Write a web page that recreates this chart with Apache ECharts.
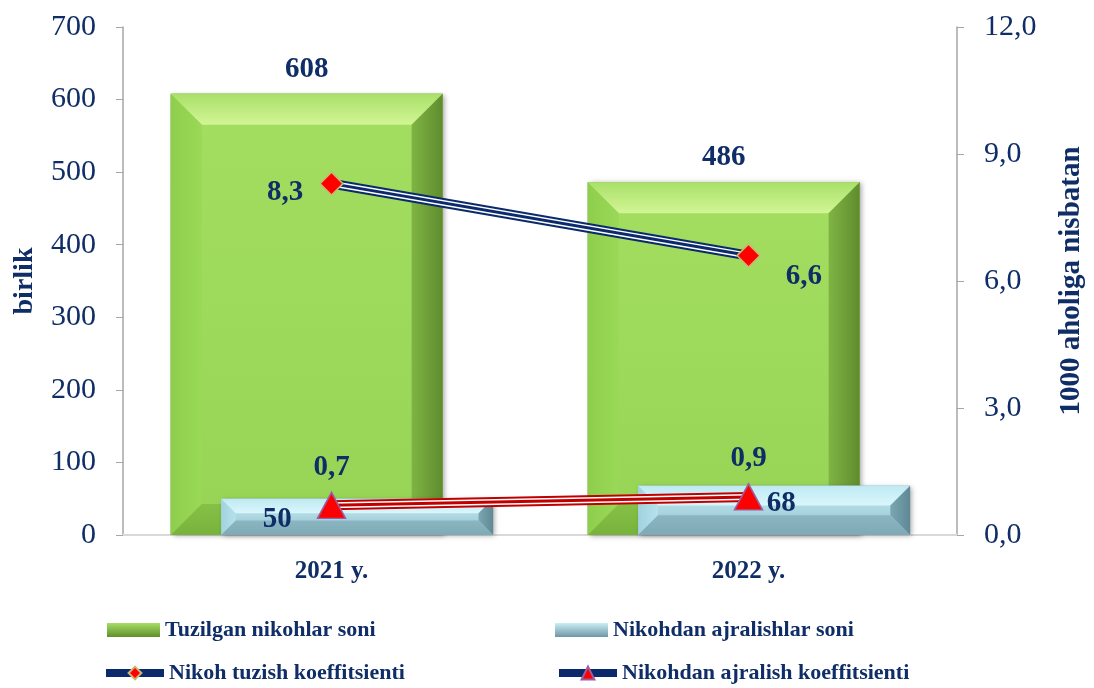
<!DOCTYPE html>
<html>
<head>
<meta charset="utf-8">
<script src="https://cdn.jsdelivr.net/npm/echarts@6/dist/echarts.min.js"></script>
<style>
  html, body { margin: 0; padding: 0; background: #fff; }
  #chart { width: 1094px; height: 688px; }
</style>
</head>
<body>
<div id="chart"></div>
<script>
// data
var years = ['2021 y.', '2022 y.'];
var marriages = [608, 486];        // Tuzilgan nikohlar soni
var divorces = [50, 68];           // Nikohdan ajralishlar soni
var marriageRate = [8.3, 6.6];     // Nikoh tuzish koeffitsienti
var divorceRate = [0.7, 0.9];      // Nikohdan ajralish koeffitsienti

var FONT = 'Liberation Serif';
var NAVY = '#0f2d66';

function comma(v) { return v.toFixed(1).replace('.', ','); }

function grad(c0, c1, horiz) {
  return new echarts.graphic.LinearGradient(0, 0, horiz ? 1 : 0, horiz ? 0 : 1,
    [{ offset: 0, color: c0 }, { offset: 1, color: c1 }]);
}

var greenFaces = {
  main: ['#a3de60', '#97d455'],
  top: ['#a9e069', '#d2f595'],
  left: ['#8fcd4c', '#9ad858'],
  right: ['#5f8c2e', '#7fb444'],
  bottom: ['#86c146', '#78b23c'],
  edge: '#4f7525'
};
var blueFaces = {
  main: ['#c9eff7', '#8fbdc9'],
  top: ['#bfe9f3', '#d9f7fc'],
  left: ['#a2d2de', '#b5e2ec'],
  right: ['#5f8894', '#7aa6b2'],
  bottom: ['#8ab6c2', '#7ea9b5'],
  edge: '#5a7f89'
};

// label shifts (style only)
var greenLabelShift = [[0, -24], [0, -25]];
var blueLabelShift = [[-80, 3], [7, -7]];

function bevelBar(faces, offsetFrac, labelShift, labelMode) {
  return function (params, api) {
    var i = api.value(0), v = api.value(1);
    var top = api.coord([i, v]);
    var base = api.coord([i, 0]);
    var band = api.size([1, 0])[0];
    var w = band * 0.652;
    var cx = top[0] + band * offsetFrac;
    var x0 = cx - w / 2, x1 = cx + w / 2, y0 = top[1], y1 = base[1];
    var h = y1 - y0;
    var b = Math.min(31, h * 0.4);
    var sh = labelShift[params.dataIndex];
    var ly = labelMode === 'top' ? y0 + sh[1] : (y0 + y1) / 2 + sh[1];
    return {
      type: 'group',
      children: [
        { type: 'rect', shape: { x: x0, y: y0, width: w, height: h },
          style: { fill: faces.edge, shadowBlur: 5, shadowOffsetX: 2, shadowOffsetY: 1, shadowColor: 'rgba(0,0,0,0.35)' } },
        { type: 'rect', shape: { x: x0, y: y0, width: w, height: h }, style: { fill: grad(faces.main[0], faces.main[1]) } },
        { type: 'polygon', shape: { points: [[x0, y0], [x1, y0], [x1 - b, y0 + b], [x0 + b, y0 + b]] }, style: { fill: grad(faces.top[0], faces.top[1]) } },
        { type: 'polygon', shape: { points: [[x0, y0], [x0 + b, y0 + b], [x0 + b, y1 - b], [x0, y1]] }, style: { fill: grad(faces.left[0], faces.left[1], true) } },
        { type: 'polygon', shape: { points: [[x1, y0], [x1, y1], [x1 - b, y1 - b], [x1 - b, y0 + b]] }, style: { fill: grad(faces.right[1], faces.right[0], true) } },
        { type: 'polygon', shape: { points: [[x0, y1], [x0 + b, y1 - b], [x1 - b, y1 - b], [x1, y1]] }, style: { fill: grad(faces.bottom[0], faces.bottom[1]) } },
        { type: 'text', x: cx + sh[0], y: ly,
          style: { text: String(v), fill: NAVY, font: 'bold 29px ' + FONT, align: 'center', verticalAlign: 'middle' } }
      ]
    };
  };
}

function pairs(arr) { return arr.map(function (v, i) { return [i, v]; }); }

function tripleLine(name, values, color, symbol, symbolSize, symbolBorder, labelCfg) {
  var common = { type: 'line', xAxisIndex: 0, yAxisIndex: 1, symbol: 'none', silent: true, animation: false };
  return [
    Object.assign({}, common, { name: name + ' ', data: values, lineStyle: { color: color, width: 10 } }),
    Object.assign({}, common, { name: name + '  ', data: values, lineStyle: { color: '#ffffff', width: 6 } }),
    Object.assign({}, common, {
      name: name,
      data: values.map(function (v, i) {
        return { value: v, label: { position: labelCfg[i][0], offset: labelCfg[i][1] } };
      }),
      symbol: symbol, symbolSize: symbolSize,
      itemStyle: { color: '#ff0000', borderColor: symbolBorder, borderWidth: 1.5 },
      lineStyle: { color: color, width: 3 },
      label: {
        show: true, color: NAVY, fontFamily: FONT, fontWeight: 'bold', fontSize: 29,
        formatter: function (p) { return comma(p.value); }
      }
    })
  ];
}

var chart = echarts.init(document.getElementById('chart'), null, { renderer: 'canvas' });

var legendText = { color: NAVY, fontFamily: FONT, fontWeight: 'bold', fontSize: 22 };

var option = {
  animation: false,
  backgroundColor: '#ffffff',
  grid: { left: 123, right: 131, top: 27, bottom: 153 },
  legend: [
    { data: [{ name: 'Tuzilgan nikohlar soni', icon: 'rect' }], left: 102, top: 614, itemWidth: 53, itemHeight: 14, itemGap: 4, textStyle: legendText,
      itemStyle: { color: grad('#a6de66', '#5f8f2c') } },
    { data: [{ name: 'Nikohdan ajralishlar soni', icon: 'rect' }], left: 550, top: 614, itemWidth: 53, itemHeight: 14, itemGap: 4, textStyle: legendText,
      itemStyle: { color: grad('#c9eff7', '#6d97a3') } },
    { data: ['Nikoh tuzish koeffitsienti'], left: 97, top: 657, itemWidth: 58, itemHeight: 16, textStyle: legendText,
      lineStyle: { width: 8, color: '#0a2a6b' } },
    { data: ['Nikohdan ajralish koeffitsienti'], left: 550, top: 657, itemWidth: 58, itemHeight: 16, textStyle: legendText,
      lineStyle: { width: 8, color: '#0a2a6b' } }
  ],
  xAxis: {
    type: 'category',
    data: years,
    axisLine: { lineStyle: { color: '#d9d9d9', width: 2 } },
    axisTick: { show: false },
    axisLabel: { color: NAVY, fontFamily: FONT, fontWeight: 'bold', fontSize: 25, margin: 24 }
  },
  yAxis: [
    {
      type: 'value', min: 0, max: 700, interval: 100,
      name: 'birlik', nameLocation: 'middle', nameGap: 84, nameRotate: 90,
      nameTextStyle: { color: NAVY, fontFamily: FONT, fontWeight: 'bold', fontSize: 28 },
      axisLine: { show: true, lineStyle: { color: '#a6a6a6', width: 1.5 } },
      axisTick: { show: true, length: 7, lineStyle: { color: '#a6a6a6' } },
      splitLine: { show: false },
      axisLabel: { color: NAVY, fontFamily: FONT, fontSize: 30, margin: 27 }
    },
    {
      type: 'value', min: 0, max: 12, interval: 3,
      name: '1000 aholiga nisbatan', nameLocation: 'middle', nameGap: 100, nameRotate: 90,
      nameTextStyle: { color: NAVY, fontFamily: FONT, fontWeight: 'bold', fontSize: 29 },
      axisLine: { show: true, lineStyle: { color: '#a6a6a6', width: 1.5 } },
      axisTick: { show: true, length: 7, lineStyle: { color: '#a6a6a6' } },
      splitLine: { show: false },
      axisLabel: { color: NAVY, fontFamily: FONT, fontSize: 30, margin: 27, formatter: comma }
    }
  ],
  series: [
    {
      name: 'Tuzilgan nikohlar soni', type: 'custom',
      renderItem: bevelBar(greenFaces, -0.0595, greenLabelShift, 'top'),
      encode: { x: 0, y: 1 }, data: pairs(marriages),
      itemStyle: { color: '#9ddb5a' }
    },
    {
      name: 'Nikohdan ajralishlar soni', type: 'custom',
      renderItem: bevelBar(blueFaces, 0.0615, blueLabelShift, 'mid'),
      encode: { x: 0, y: 1 }, data: pairs(divorces),
      itemStyle: { color: '#a9dbe7' }
    }
  ]
    .concat(tripleLine('Nikoh tuzish koeffitsienti', marriageRate, '#0a2a6b', 'diamond', 23, '#c9b775',
      [['left', [-11, 9]], ['right', [20, 21]]]))
    .concat(tripleLine('Nikohdan ajralish koeffitsienti', divorceRate, '#c00000', 'triangle', [28, 26], '#9a5fa0',
      [['top', [0, -5]], ['top', [0, -5]]]))
};

chart.setOption(option);
</script>
</body>
</html>
